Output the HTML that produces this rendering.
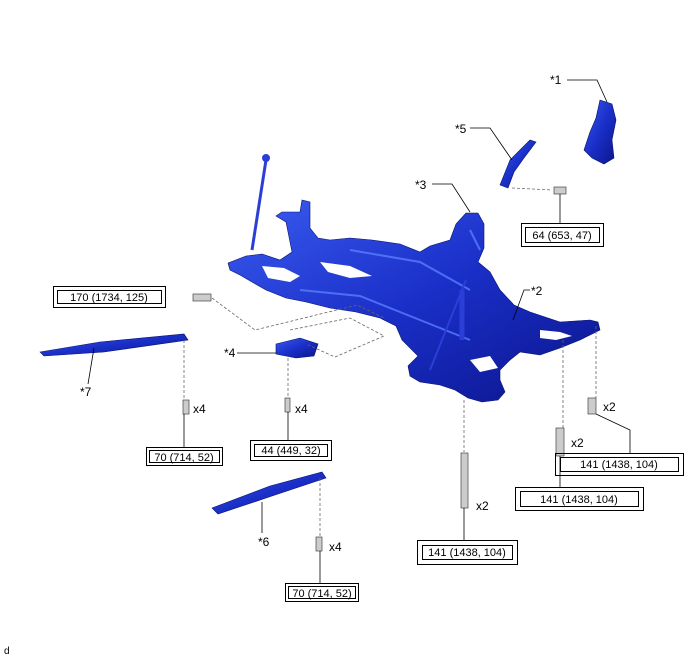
<!DOCTYPE html>
<html><head><meta charset="utf-8"><style>
body{margin:0;background:#fff;}
svg{display:block;font-family:"Liberation Sans",sans-serif;}
text{font-size:11px;fill:#000;}
.lb{font-size:12px;}
</style></head><body>
<svg width="688" height="658" viewBox="0 0 688 658" xmlns="http://www.w3.org/2000/svg">
<defs>
<linearGradient id="b" x1="0" y1="0" x2="1" y2="1">
<stop offset="0" stop-color="#3a5cf0"/><stop offset="0.5" stop-color="#1a2fc8"/><stop offset="1" stop-color="#0a148a"/>
</linearGradient>
</defs>
<g fill="url(#b)" stroke="#0a1270" stroke-width="0.6">
<!-- *1 knuckle -->
<path d="M600 100 L612 104 L616 120 L612 140 L614 158 L604 164 L592 158 L584 150 L590 132 L596 118 Z"/>
<!-- *5 shaft -->
<path d="M500 185 L510 160 L520 150 L530 140 L536 142 L524 158 L514 172 L508 188 Z"/>
<!-- main subframe -->
<path d="M228 263 L246 256 L262 254 L280 260 L292 252 L286 222 L276 216 L282 212 L300 212 L302 200 L310 202 L310 228 L318 238 L330 240 L350 238 L372 240 L400 244 L420 252 L430 246 L450 240 L456 224 L466 213 L478 213 L484 224 L484 248 L478 262 L490 272 L500 290 L514 305 L530 312 L560 322 L590 320 L598 322 L600 330 L580 340 L560 348 L540 355 L520 352 L510 360 L500 370 L500 380 L505 392 L498 400 L482 402 L468 398 L455 390 L440 385 L420 382 L410 376 L408 366 L418 356 L402 340 L396 326 L380 318 L356 312 L330 308 L306 302 L286 298 L266 290 L252 282 L240 275 L230 270 Z"/>
<!-- *4 block -->
<path d="M276 344 L300 338 L318 344 L314 356 L296 358 L276 354 Z"/>
<!-- *7 brace -->
<path d="M40 352 L100 342 L184 334 L188 340 L104 352 L44 356 Z"/>
<!-- *6 brace -->
<path d="M212 508 L270 486 L322 472 L326 478 L272 496 L218 514 Z"/>
</g>
<!-- white gaps in subframe -->
<g fill="#fff">
<path d="M262 266 L284 268 L300 276 L290 282 L268 278 Z"/>
<path d="M320 262 L350 266 L372 276 L350 278 L328 272 Z"/>
<path d="M540 330 L560 332 L572 336 L556 340 L540 338 Z"/>
<path d="M470 360 L490 356 L498 368 L480 372 Z"/>
</g>
<!-- highlights -->
<g fill="none" stroke="#5a7cff" stroke-width="2" opacity="0.8">
<path d="M300 290 L360 296 L420 320 L470 340"/>
<path d="M350 250 L420 262 L470 290"/>
<path d="M470 230 L480 250"/>
</g>
<!-- stabilizer link -->
<line x1="266" y1="160" x2="252" y2="250" stroke="#2b3fd8" stroke-width="3"/>
<circle cx="266" cy="158" r="4" fill="#2b3fd8"/>
<line x1="462" y1="290" x2="462" y2="340" stroke="#2b3fd8" stroke-width="5"/>
<line x1="466" y1="280" x2="430" y2="370" stroke="#2b3fd8" stroke-width="2"/>
<!-- bolts -->
<g fill="#ccc" stroke="#444" stroke-width="0.7">
<rect x="554" y="187" width="12" height="7"/>
<rect x="193" y="294" width="18" height="7"/>
<rect x="183" y="400" width="6" height="14"/>
<rect x="285" y="398" width="5" height="14"/>
<rect x="461" y="453" width="7" height="55"/>
<rect x="556" y="428" width="8" height="28"/>
<rect x="588" y="398" width="8" height="16"/>
<rect x="316" y="537" width="6" height="14"/>
</g>
<!-- dashed -->
<g fill="none" stroke="#666" stroke-dasharray="3,2" stroke-width="0.8">
<path d="M512 188 L552 190"/>
<path d="M212 298 L255 330 L357 305 L384 318"/>
<path d="M290 330 L350 318 L384 336 L335 357 L306 344"/>
<path d="M184 340 L184 400"/>
<path d="M288 358 L288 398"/>
<path d="M464 400 L464 452"/>
<path d="M563 340 L563 428"/>
<path d="M596 326 L596 398"/>
<path d="M320 478 L320 537"/>
</g>
<!-- leaders -->
<g fill="none" stroke="#000" stroke-width="0.8">
<path d="M567 80 L597 80 L607 102"/>
<path d="M470 128 L490 128 L512 160"/>
<path d="M432 184 L452 184 L470 212"/>
<path d="M530 290 L524 290 L513 320"/>
<path d="M237 353 L276 353"/>
<path d="M88 384 L94 348"/>
<path d="M262 533 L262 502"/>
<path d="M560 194 L560 224"/>
<path d="M184 414 L184 447"/>
<path d="M288 412 L288 440"/>
<path d="M464 508 L464 540"/>
<path d="M560 456 L560 488"/>
<path d="M596 414 L630 430 L630 453"/>
<path d="M320 551 L320 584"/>
</g>
<!-- labels -->
<text class="lb" x="550" y="84">*1</text>
<text class="lb" x="455" y="133">*5</text>
<text class="lb" x="415" y="189">*3</text>
<text class="lb" x="531" y="295">*2</text>
<text class="lb" x="224" y="357">*4</text>
<text class="lb" x="80" y="396">*7</text>
<text class="lb" x="258" y="546">*6</text>
<text class="lb" x="193" y="413">x4</text>
<text class="lb" x="295" y="413">x4</text>
<text class="lb" x="476" y="510">x2</text>
<text class="lb" x="571" y="447">x2</text>
<text class="lb" x="603" y="411">x2</text>
<text class="lb" x="329" y="551">x4</text>
<text x="4" y="654" style="font-size:10px">d</text>
<!-- boxes -->
<g fill="none" stroke="#000" stroke-width="1">
<rect x="53.5" y="286.5" width="112" height="21"/><rect x="57.5" y="290.5" width="104" height="13"/>
<rect x="521.5" y="223.5" width="82" height="23"/><rect x="525.5" y="227.5" width="74" height="15"/>
<rect x="146.5" y="447.5" width="76" height="18"/><rect x="149.5" y="450.5" width="70" height="12"/>
<rect x="250.5" y="440.5" width="81" height="20"/><rect x="254.5" y="444.5" width="73" height="12"/>
<rect x="555.5" y="453.5" width="128" height="22"/><rect x="560.5" y="457.5" width="118" height="14"/>
<rect x="515.5" y="487.5" width="128" height="23"/><rect x="520.5" y="491.5" width="118" height="15"/>
<rect x="417.5" y="540.5" width="100" height="24"/><rect x="422.5" y="545.5" width="90" height="14"/>
<rect x="285.5" y="583.5" width="73" height="18"/><rect x="288.5" y="586.5" width="67" height="12"/>
</g>
<text x="109" y="301" text-anchor="middle">170 (1734, 125)</text>
<text x="562" y="239" text-anchor="middle">64 (653, 47)</text>
<text x="184" y="461" text-anchor="middle">70 (714, 52)</text>
<text x="291" y="454" text-anchor="middle">44 (449, 32)</text>
<text x="619" y="468" text-anchor="middle">141 (1438, 104)</text>
<text x="579" y="503" text-anchor="middle">141 (1438, 104)</text>
<text x="467" y="556" text-anchor="middle">141 (1438, 104)</text>
<text x="322" y="597" text-anchor="middle">70 (714, 52)</text>
</svg>
</body></html>
